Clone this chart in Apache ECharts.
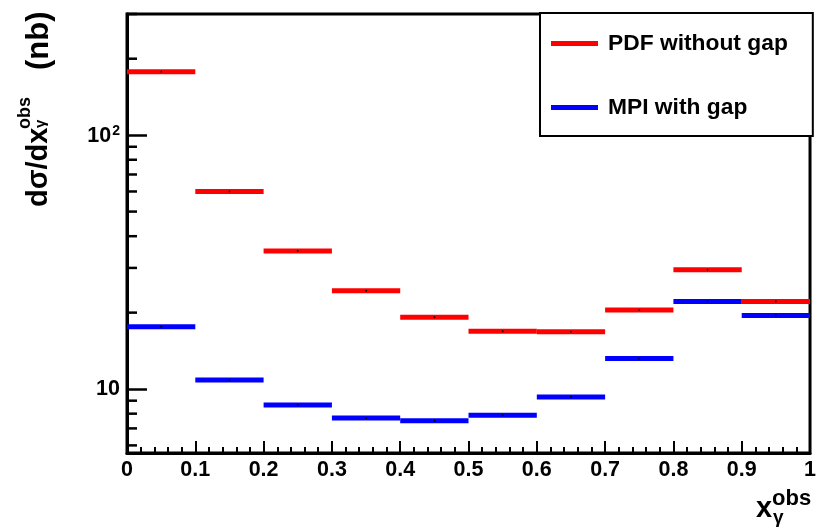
<!DOCTYPE html>
<html>
<head>
<meta charset="utf-8">
<script src="https://cdn.jsdelivr.net/npm/echarts@6/dist/echarts.min.js"></script>
<style>
  html, body { margin: 0; padding: 0; background: #fff; }
  #chart { width: 819px; height: 531px; }
</style>
</head>
<body>
<div id="chart"></div>
<script>
// Bin edges of the x_gamma^obs histogram
const binEdges = [0, 0.1, 0.2, 0.3, 0.4, 0.5, 0.6, 0.7, 0.8, 0.9, 1.0];
const xTickLabels = ['0', '0.1', '0.2', '0.3', '0.4', '0.5', '0.6', '0.7', '0.8', '0.9', '1'];

// Cross sections per bin (nb)
const pdfWithoutGap = [177.5, 60.0, 35.0, 24.4, 19.2, 16.9, 16.8, 20.5, 29.5, 22.1];
const mpiWithGap = [17.6, 10.85, 8.65, 7.69, 7.51, 7.88, 9.30, 13.2, 22.1, 19.5];

const seriesNames = ['PDF without gap', 'MPI with gap'];
const seriesColors = ['#ff0000', '#0000ff'];

// Log-axis range and minor tick positions
const yRange = [5.6, 300];
const yMinorTicks = [6, 7, 8, 9, 20, 30, 40, 50, 60, 70, 80, 90, 200, 300];

const FONT = '"Liberation Sans", Arial, Helvetica, sans-serif';

function histSeries(name, values, color) {
  return {
    type: 'custom',
    name: name,
    coordinateSystem: 'cartesian2d',
    itemStyle: { color: color },
    data: values.map((v, i) => [binEdges[i], binEdges[i + 1], v]),
    encode: { x: [0, 1], y: 2 },
    renderItem: function (params, api) {
      const x0 = api.value(0), x1 = api.value(1), y = api.value(2);
      const a = api.coord([x0, y]);
      const b = api.coord([x1, y]);
      const m = api.coord([(x0 + x1) / 2, y]);
      return {
        type: 'group',
        children: [
          { type: 'line', shape: { x1: a[0], y1: a[1], x2: b[0], y2: b[1] },
            style: { stroke: color, lineWidth: 5 } },
          { type: 'circle', shape: { cx: m[0], cy: m[1], r: 1 },
            style: { fill: '#000' } }
        ]
      };
    }
  };
}

const chart = echarts.init(document.getElementById('chart'), null, { renderer: 'canvas' });

chart.setOption({
  animation: false,
  backgroundColor: '#fff',
  grid: {
    left: 127, right: 6, top: 14, bottom: 78,
    show: true, borderColor: '#000', borderWidth: 3, backgroundColor: 'transparent'
  },
  legend: {
    data: seriesNames,
    orient: 'vertical',
    left: 540, top: 13,
    padding: [19, 25, 17, 11],
    itemGap: 41,
    itemWidth: 47, itemHeight: 5,
    icon: 'rect',
    backgroundColor: '#fff',
    borderColor: '#000', borderWidth: 2, borderRadius: 0,
    textStyle: { fontFamily: FONT, fontWeight: 'bold', fontSize: 22.8, color: '#000', padding: [0, 0, 0, 5] }
  },
  xAxis: {
    type: 'value', min: 0, max: 1, interval: 0.1,
    axisLine: { lineStyle: { color: '#000', width: 3 } },
    axisTick: { inside: true, length: 12, lineStyle: { color: '#000', width: 2 } },
    minorTick: { show: true, splitNumber: 5, length: 6, lineStyle: { color: '#000', width: 2 } },
    splitLine: { show: false },
    axisLabel: {
      margin: 6,
      fontFamily: FONT, fontWeight: 'bold', fontSize: 21.5, color: '#000',
      formatter: v => xTickLabels[Math.round(v * 10)]
    }
  },
  yAxis: {
    type: 'log', logBase: 10, min: yRange[0], max: yRange[1],
    axisLine: { show: true, lineStyle: { color: '#000', width: 3 } },
    axisTick: { inside: true, length: 20, lineStyle: { color: '#000', width: 2.5 } },
    splitLine: { show: false },
    axisLabel: {
      margin: 7,
      showMinLabel: false, showMaxLabel: false,
      formatter: function (v) {
        if (Math.abs(v - 100) < 1e-6) return '{b|10}{s|2}';
        if (Math.abs(v - 10) < 1e-6) return '{b|10}';
        return '';
      },
      rich: {
        b: { fontFamily: FONT, fontWeight: 'bold', fontSize: 21.5, color: '#000', verticalAlign: 'bottom' },
        s: { fontFamily: FONT, fontWeight: 'bold', fontSize: 14, color: '#000',
             verticalAlign: 'bottom', padding: [0, 0, 9, 1] }
      }
    }
  },
  series: [
    histSeries(seriesNames[0], pdfWithoutGap, seriesColors[0]),
    histSeries(seriesNames[1], mpiWithGap, seriesColors[1]),
    {
      // minor ticks of the logarithmic y axis
      type: 'custom',
      silent: true,
      data: yMinorTicks.map(v => [0, v]),
      encode: { x: 0, y: 1 },
      renderItem: function (params, api) {
        const p = api.coord([0, api.value(1)]);
        return { type: 'line', shape: { x1: p[0], y1: p[1], x2: p[0] + 10, y2: p[1] },
                 style: { stroke: '#000', lineWidth: 2.5 } };
      }
    }
  ],
  graphic: [
    {
      // y-axis title, reading bottom to top
      type: 'group', x: 0, y: 207, rotation: Math.PI / 2,
      children: [
        { type: 'text', x: 0, y: 39, style: { text: 'dσ/dx', font: 'bold 29px ' + FONT, fill: '#000', verticalAlign: 'middle' } },
        { type: 'text', x: 78, y: 25, style: { text: 'obs', font: 'bold 18px ' + FONT, fill: '#000', verticalAlign: 'middle' } },
        { type: 'text', x: 79, y: 41, style: { text: 'γ', font: 'bold 15px ' + FONT, fill: '#000', verticalAlign: 'middle' } },
        { type: 'text', x: 137, y: 39, style: { text: '(nb)', font: 'bold 31px ' + FONT, fill: '#000', verticalAlign: 'middle' } }
      ]
    },
    {
      // x-axis title
      type: 'group', x: 0, y: 0,
      children: [
        { type: 'text', x: 756, y: 509, style: { text: 'x', font: 'bold 29px ' + FONT, fill: '#000', verticalAlign: 'middle' } },
        { type: 'text', x: 772, y: 499, style: { text: 'obs', font: 'bold 22px ' + FONT, fill: '#000', verticalAlign: 'middle' } },
        { type: 'text', x: 773, y: 518, style: { text: 'γ', font: 'bold 19px ' + FONT, fill: '#000', verticalAlign: 'middle' } }
      ]
    }
  ]
});
</script>
</body>
</html>
